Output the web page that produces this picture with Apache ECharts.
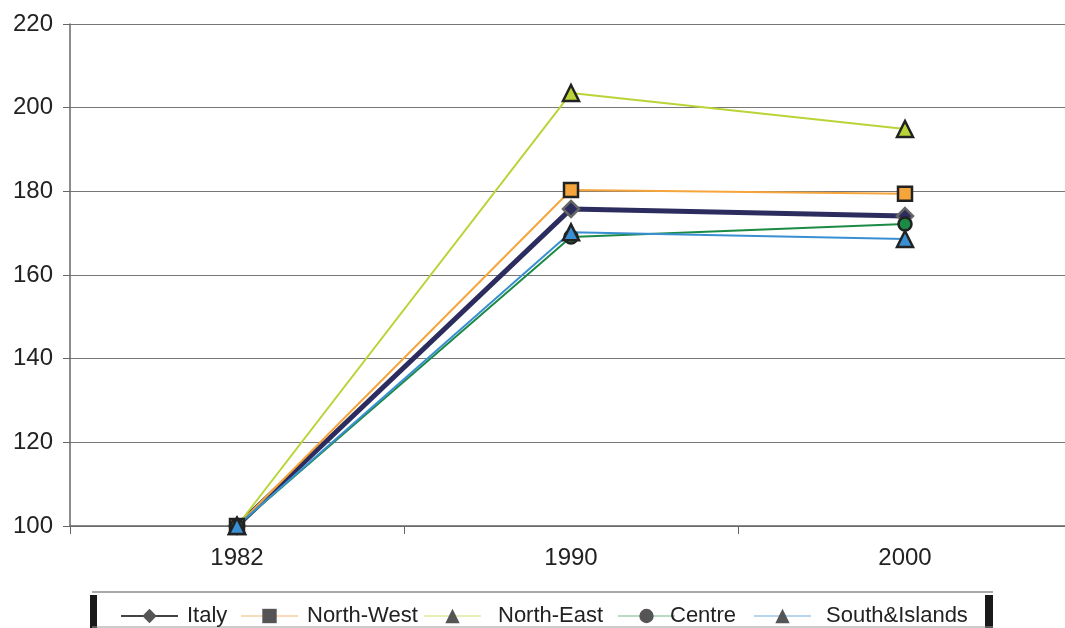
<!DOCTYPE html>
<html>
<head>
<meta charset="utf-8">
<script src="https://cdn.jsdelivr.net/npm/echarts@6/dist/echarts.min.js"></script>
<style>
  html, body { margin: 0; padding: 0; background: #ffffff; }
  #chart { width: 1065px; height: 628px; }
</style>
</head>
<body>
<div id="chart"></div>
<script>
// Index numbers, 1982 = 100
const years = ['1982', '1990', '2000'];
const italy = [100, 175.8, 174.1];
const northWest = [100, 180.3, 179.4];
const northEast = [100, 203.5, 194.9];
const centre = [100, 169.1, 172.2];
const southIslands = [100, 170.2, 168.6];
const yTicks = { min: 100, max: 220, interval: 20 };
const names = ['Italy', 'North-West', 'North-East', 'Centre', 'South&Islands'];

const chart = echarts.init(document.getElementById('chart'));

function line(name, data, color, width, symbol, fill, border, size) {
  return {
    name: name,
    type: 'line',
    data: data,
    symbol: symbol,
    symbolSize: size,
    lineStyle: { color: color, width: width },
    itemStyle: { color: fill, borderColor: border, borderWidth: 2.5 },
    emphasis: { disabled: true }
  };
}

// one legend block per entry so each sits at its own place in the key strip
const legendLeft = [120, 240, 423, 617, 753];
const legendGap = [4, 4, 12, -10, 10];
const legendLine = ['#444', '#f9dcb5', '#e6efb8', '#b6dcc2', '#b7d6ee'];
const legends = names.map((n, i) => ({
  data: [n],
  left: legendLeft[i],
  top: 605,
  padding: 0,
  itemWidth: 57,
  itemHeight: 18,
  itemGap: 0,
  itemStyle: { color: '#555', borderWidth: 0 },
  lineStyle: { color: legendLine[i], width: 2 },
  textStyle: { fontSize: 22, color: '#222', padding: [0, 0, 0, legendGap[i]] }
}));

chart.setOption({
  animation: false,
  textStyle: { fontFamily: 'Liberation Sans, Arial, sans-serif' },
  grid: { left: 70, width: 1002, top: 24, bottom: 102, containLabel: false, outerBoundsMode: 'none' },
  xAxis: {
    type: 'category',
    data: years,
    boundaryGap: true,
    axisLine: { lineStyle: { color: '#666', width: 1.5 } },
    axisTick: { show: true, length: 8, lineStyle: { color: '#666' } },
    axisLabel: { color: '#222', fontSize: 24, margin: 20 }
  },
  yAxis: {
    type: 'value',
    min: yTicks.min,
    max: yTicks.max,
    interval: yTicks.interval,
    axisLine: { show: true, lineStyle: { color: '#666', width: 1.5 } },
    axisTick: { show: true, length: 7, lineStyle: { color: '#666' } },
    axisLabel: { color: '#222', fontSize: 24, margin: 17 },
    splitLine: { lineStyle: { color: '#777', width: 1 } }
  },
  legend: legends,
  graphic: [
    { type: 'line', shape: { x1: 92, y1: 592, x2: 993, y2: 592 }, style: { stroke: '#aaa', lineWidth: 2 } },
    { type: 'rect', shape: { x: 90, y: 595, width: 7, height: 33 }, style: { fill: '#1a1a1a' } },
    { type: 'rect', shape: { x: 985, y: 595, width: 8, height: 33 }, style: { fill: '#1a1a1a' } },
    { type: 'line', shape: { x1: 92, y1: 627, x2: 993, y2: 627 }, style: { stroke: '#999', lineWidth: 1 } }
  ],
  series: [
    line('Italy', italy, '#2c2d5e', 5, 'diamond', '#2c2d5e', '#666', 16),
    line('North-West', northWest, '#f5a53c', 2, 'rect', '#f5a53c', '#222', 14),
    line('North-East', northEast, '#b9d437', 2, 'triangle', '#b9d437', '#222', 16),
    line('Centre', centre, '#1b8a45', 2, 'circle', '#1b8a45', '#222', 13),
    line('South&Islands', southIslands, '#3a8fd2', 2, 'triangle', '#3a8fd2', '#222', 16)
  ]
});
</script>
</body>
</html>
